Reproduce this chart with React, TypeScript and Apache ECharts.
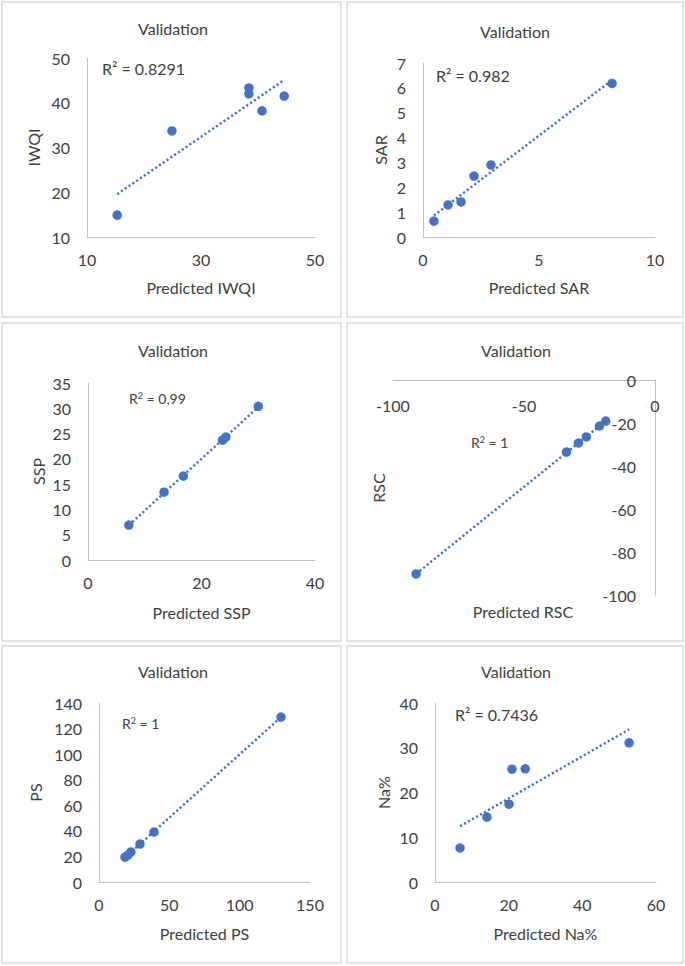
import React, { useEffect, useRef } from "react";
import * as echarts from "echarts";

const FONT = "Lato";
const TEXT = "#404040";
const BLUE = "#4472C4";
const AXIS = "#bfbfbf";

// ---- data ----
const iwqiPredicted = [15.3, 24.9, 38.4, 38.4, 40.7, 44.6];
const iwqiObserved = [14.9, 33.7, 43.3, 42.0, 38.2, 41.5];
const sarPredicted = [0.47, 1.08, 1.64, 2.2, 2.93, 8.15];
const sarObserved = [0.64, 1.29, 1.41, 2.45, 2.9, 6.18];
const sspPredicted = [7.2, 13.4, 16.8, 23.7, 24.3, 30.0];
const sspObserved = [6.9, 13.4, 16.6, 23.7, 24.3, 30.4];
const rscPredicted = [-91.2, -33.8, -29.2, -26.2, -21.2, -18.8];
const rscObserved = [-90.2, -33.5, -29.3, -26.5, -21.4, -19.1];
const psPredicted = [18.5, 20.6, 22.7, 29.1, 39.1, 129.4];
const psObserved = [19.5, 21.0, 23.5, 29.7, 39.1, 129.0];
const naPredicted = [6.8, 14.1, 20.1, 20.9, 24.5, 52.7];
const naObserved = [7.6, 14.5, 17.4, 25.2, 25.3, 31.1];

// ---- tick labels ----
const iwqiXTicks = [10, 30, 50];
const iwqiYTicks = [10, 20, 30, 40, 50];
const sarXTicks = [0, 5, 10];
const sarYTicks = [0, 1, 2, 3, 4, 5, 6, 7];
const sspXTicks = [0, 20, 40];
const sspYTicks = [0, 5, 10, 15, 20, 25, 30, 35];
const rscXTicks = [-100, -50, 0];
const rscYTicks = [-100, -80, -60, -40, -20, 0];
const psXTicks = [0, 50, 100, 150];
const psYTicks = [0, 20, 40, 60, 80, 100, 120, 140];
const naXTicks = [0, 20, 40, 60];
const naYTicks = [0, 10, 20, 30, 40];

// ---- texts ----
const titleText = "Validation";
const xNames = ["Predicted IWQI", "Predicted SAR", "Predicted SSP", "Predicted RSC", "Predicted PS", "Predicted Na%"];
const yNames = ["IWQI", "SAR", "SSP", "RSC", "PS", "Na%"];
const r2Labels = ["R² = 0.8291", "R² = 0.982", "0,99", "1", "1", "R² = 0.7436"];

// ---- layout ----
const panels = [
  { box: [2, 2, 339, 315], grid: [87, 58, 228, 179], title: [173, 28], r2: [102, 68], sup: false, xGap: 42, yGap: 46 },
  { box: [347, 2, 336, 315], grid: [423, 63, 232, 174], title: [515, 31], r2: [436, 75], sup: false, xGap: 42, yGap: 35 },
  { box: [2, 323, 339, 318], grid: [88, 383, 227, 177], title: [173, 350], r2: [129, 398], sup: true, xGap: 44, yGap: 42 },
  { box: [347, 323, 336, 318], grid: [393, 380, 262, 215], title: [516, 350], r2: [471, 442], sup: true, xGap: 0, yGap: 0 },
  { box: [2, 646, 339, 317], grid: [99, 703, 211, 179], title: [173, 671], r2: [122, 723], sup: true, xGap: 43, yGap: 56 },
  { box: [347, 646, 336, 317], grid: [435, 703, 221, 179], title: [516, 671], r2: [455, 714], sup: false, xGap: 43, yGap: 44 },
];

const seriesData = [
  [iwqiPredicted, iwqiObserved, iwqiXTicks, iwqiYTicks],
  [sarPredicted, sarObserved, sarXTicks, sarYTicks],
  [sspPredicted, sspObserved, sspXTicks, sspYTicks],
  [rscPredicted, rscObserved, rscXTicks, rscYTicks],
  [psPredicted, psObserved, psXTicks, psYTicks],
  [naPredicted, naObserved, naXTicks, naYTicks],
];

function trend(xs: number[], ys: number[]) {
  const n = xs.length;
  const mx = xs.reduce((a, b) => a + b, 0) / n;
  const my = ys.reduce((a, b) => a + b, 0) / n;
  let sxy = 0;
  let sxx = 0;
  for (let i = 0; i < n; i++) {
    sxy += (xs[i] - mx) * (ys[i] - my);
    sxx += (xs[i] - mx) * (xs[i] - mx);
  }
  const b = sxy / sxx;
  const a = my - b * mx;
  const x0 = Math.min(...xs);
  const x1 = Math.max(...xs);
  return [
    [x0, a + b * x0],
    [x1, a + b * x1],
  ];
}

export default function App() {
  const ref = useRef<HTMLDivElement>(null);
  useEffect(() => {
    if (!ref.current) return;
    const chart = echarts.init(ref.current, null, { renderer: "svg" });
    const labelStyle = { fontFamily: FONT, fontSize: 16, color: TEXT };
    const grids: any[] = [];
    const xAxes: any[] = [];
    const yAxes: any[] = [];
    const series: any[] = [];
    const graphics: any[] = [];

    panels.forEach((p, i) => {
      const [xs, ys, xt, yt] = seriesData[i];
      const isRsc = i === 3;
      grids.push({ left: p.grid[0], top: p.grid[1], width: p.grid[2], height: p.grid[3] });
      xAxes.push({
        gridIndex: i,
        type: "value",
        min: xt[0],
        max: xt[xt.length - 1],
        position: isRsc ? "top" : "bottom",
        axisLine: { show: true, onZero: false, lineStyle: { color: AXIS, width: 1 } },
        axisTick: { show: false },
        splitLine: { show: false },
        axisLabel: { ...labelStyle, customValues: xt, margin: isRsc ? 17 : 14, inside: isRsc },
        name: isRsc ? "" : xNames[i],
        nameLocation: "middle",
        nameGap: p.xGap,
        nameTextStyle: { fontFamily: FONT, fontSize: 16, color: TEXT },
      });
      yAxes.push({
        gridIndex: i,
        type: "value",
        min: yt[0],
        max: yt[yt.length - 1],
        position: isRsc ? "right" : "left",
        axisLine: { show: true, onZero: false, lineStyle: { color: AXIS, width: 1 } },
        axisTick: { show: false },
        splitLine: { show: false },
        axisLabel: { ...labelStyle, customValues: yt, margin: isRsc ? 19 : 17, inside: isRsc },
        name: isRsc ? "" : yNames[i],
        nameLocation: "middle",
        nameGap: p.yGap,
        nameTextStyle: { fontFamily: FONT, fontSize: 16, color: TEXT },
      });
      series.push({
        type: "line",
        xAxisIndex: i,
        yAxisIndex: i,
        data: trend(xs, ys),
        showSymbol: false,
        symbol: "none",
        z: 1,
        lineStyle: { color: BLUE, width: 2.4, type: [2.2, 2.4] },
        silent: true,
      });
      series.push({
        type: "scatter",
        xAxisIndex: i,
        yAxisIndex: i,
        data: xs.map((x, k) => [x, ys[k]]),
        symbol: "circle",
        symbolSize: 9.5,
        z: 3,
        itemStyle: { color: BLUE, opacity: 1 },
      });

      graphics.push({
        type: "rect",
        shape: { x: p.box[0], y: p.box[1], width: p.box[2], height: p.box[3] },
        style: { fill: "none", stroke: "#d9d9d9", lineWidth: 1.5 },
        z: -10,
      });
      graphics.push({
        type: "text",
        x: p.title[0],
        y: p.title[1],
        style: { text: titleText, fontFamily: FONT, fontSize: 16, fill: TEXT, align: "center", verticalAlign: "middle" },
      });
      if (p.sup) {
        graphics.push({
          type: "text",
          x: p.r2[0],
          y: p.r2[1],
          style: {
            text: `{r|R}{s|2}{r| = ${r2Labels[i]}}`,
            fontFamily: FONT,
            fontSize: 14,
            fill: TEXT,
            align: "left",
            verticalAlign: "middle",
            rich: {
              r: { fontFamily: FONT, fontSize: 14, fill: TEXT, color: TEXT },
              s: { fontFamily: FONT, fontSize: 9, fill: TEXT, color: TEXT, verticalAlign: "top" },
            },
          },
        });
      } else {
        graphics.push({
          type: "text",
          x: p.r2[0],
          y: p.r2[1],
          style: { text: r2Labels[i], fontFamily: FONT, fontSize: 16, fill: TEXT, align: "left", verticalAlign: "middle" },
        });
      }
    });

    // RSC axis names (axes sit at top/right, names at bottom/left)
    graphics.push({
      type: "text",
      x: 523,
      y: 611,
      style: { text: xNames[3], fontFamily: FONT, fontSize: 16, fill: TEXT, align: "center", verticalAlign: "middle" },
    });
    graphics.push({
      type: "text",
      x: 378,
      y: 488,
      rotation: Math.PI / 2,
      style: { text: yNames[3], fontFamily: FONT, fontSize: 16, fill: TEXT, align: "center", verticalAlign: "middle" },
    });

    chart.setOption({
      animation: false,
      backgroundColor: "#ffffff",
      grid: grids,
      xAxis: xAxes,
      yAxis: yAxes,
      series,
      graphic: { elements: graphics },
    });
    return () => chart.dispose();
  }, []);

  return (
    <div
      ref={ref}
      style={{ position: "absolute", left: 0, top: 0, width: 685, height: 966, background: "#fff" }}
    />
  );
}
